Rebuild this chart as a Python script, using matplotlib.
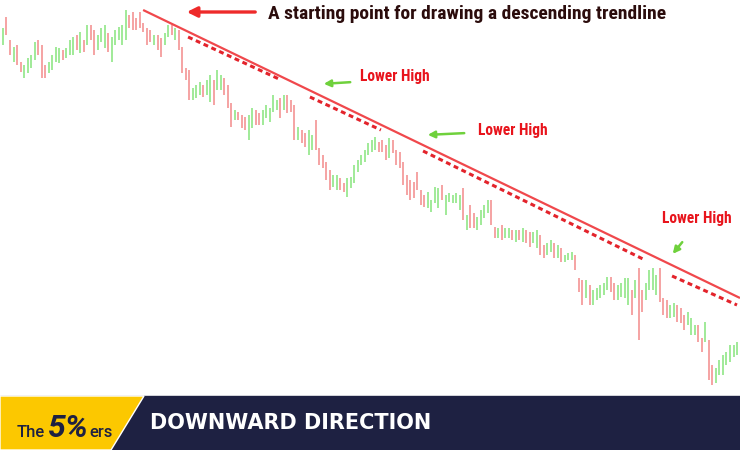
import numpy as np
import matplotlib
matplotlib.use("Agg")
import matplotlib.pyplot as plt
from matplotlib import font_manager
from matplotlib.patches import Polygon, Rectangle

# =========================
# DATA (bar highs / lows, up or down bar)
# =========================

bar_high = [372, 383, 360, 353, 355, 338, 335, 342, 345, 358,
            360, 355, 335, 338, 345, 353, 352, 350, 352, 360,
            363, 365, 368, 360, 375, 375, 370, 365, 372, 375,
            367, 363, 370, 373, 375, 390, 385, 388, 382, 388,
            377, 372, 370, 365, 365, 362, 367, 375, 375, 372,
            370, 353, 332, 330, 312, 315, 318, 315, 320, 325,
            320, 330, 325, 322, 315, 297, 290, 288, 285, 283,
            285, 292, 290, 287, 290, 295, 292, 305, 300, 302,
            305, 305, 300, 295, 273, 270, 267, 270, 265, 280,
            252, 245, 238, 230, 225, 225, 222, 217, 222, 223,
            235, 240, 245, 250, 257, 260, 263, 258, 260, 255,
            262, 260, 250, 248, 238, 225, 220, 218, 228, 210,
            205, 208, 200, 213, 212, 215, 205, 207, 205, 207,
            205, 212, 185, 195, 187, 183, 190, 195, 200, 200,
            173, 172, 175, 172, 172, 170, 170, 170, 172, 170,
            168, 168, 170, 165, 155, 157, 160, 157, 155, 152,
            145, 147, 148, 145, 122, 120, 120, 115, 110, 112,
            115, 117, 123, 123, 117, 115, 117, 122, 122, 110,
            120, 132, 110, 117, 130, 132, 125, 132, 102, 100,
            95, 97, 95, 92, 85, 88, 82, 75, 75, 62,
            78, 60, 35, 32, 40, 45, 48, 55, 55, 58]

bar_low = [355, 365, 345, 338, 335, 328, 322, 327, 332, 340,
           345, 322, 322, 327, 330, 338, 337, 340, 342, 345,
           345, 350, 347, 348, 355, 360, 345, 350, 358, 352,
           348, 338, 355, 360, 355, 360, 372, 370, 370, 372,
           368, 355, 358, 355, 350, 343, 355, 363, 365, 360,
           350, 327, 320, 300, 300, 302, 305, 303, 305, 298,
           295, 310, 310, 305, 292, 273, 280, 280, 272, 270,
           260, 272, 275, 275, 275, 282, 278, 288, 290, 282,
           290, 287, 288, 260, 260, 257, 253, 245, 250, 250,
           235, 232, 220, 210, 213, 210, 210, 208, 203, 212,
           217, 228, 235, 238, 245, 248, 250, 248, 248, 240,
           242, 247, 235, 232, 215, 205, 200, 202, 210, 195,
           193, 192, 188, 197, 192, 200, 185, 198, 197, 197,
           190, 180, 170, 172, 172, 170, 175, 182, 187, 175,
           162, 162, 160, 162, 162, 160, 158, 160, 158, 157,
           153, 157, 152, 145, 142, 145, 148, 142, 142, 138,
           138, 140, 140, 130, 108, 95, 102, 95, 95, 100,
           102, 105, 110, 108, 100, 100, 103, 102, 95, 85,
           102, 60, 88, 100, 110, 110, 105, 98, 85, 82,
           82, 83, 78, 77, 70, 75, 65, 65, 58, 48,
           58, 20, 15, 17, 25, 25, 35, 38, 43, 45]

# g = up bar, r = down bar (10 per group)
bar_dir = ("grrgrrgggg", "rrrggggrgg", "grgrgrrggg", "rgggggrrrr",
           "rrrgrrggrg", "rrrrgggrgg", "rggrrrgrrr", "ggrrgggggr",
           "grrrgrrggr", "rrrrggrrgg", "gggggggrrr", "grrrrrrrrr",
           "rggggrgggg", "grgrrggggr", "rgrggrgrgr", "rggrrggrgr",
           "gggrrrgrgg", "gggrrggggr", "grrggggrrr", "ggrrrgggrr",
           "grrggggggg")

trend_day = [39.9, 209.85]
trend_price = [390, 102]

dash_day = [[52.7, 79.2], [87.4, 107.6], [119.6, 182.8], [190.5, 209.0]]
dash_price = [[363, 320], [303, 270], [249, 140], [124, 95]]

title_text = "A starting point for drawing a descending trendline"
label_text = "Lower High"
banner_text = "DOWNWARD DIRECTION"

# =========================
# COLORS / FONTS
# =========================

GREEN = "#a0ea98"
RED = "#f5a3a3"
LINE_RED = "#f0484c"
DASH_RED = "#e3232b"
ARROW_GREEN = "#6fd13c"
NAVY = "#1e2142"
YELLOW = "#fcc800"

names = {f.name for f in font_manager.fontManager.ttflist}
narrow = None
for n in ["Roboto Condensed", "Liberation Sans Narrow", "Open Sans Condensed"]:
    if n in names:
        narrow = n
        break
if narrow is None:
    narrow = "Roboto"
    title_size, label_size = 11.5, 9.5
else:
    title_size, label_size = 14, 11.2

# =========================
# FIGURE
# =========================

fig = plt.figure(figsize=(7.4, 4.5), dpi=100)

ax = fig.add_axes([0, 0, 1, 1])
ax.set_xlim(-0.85, 209.85)
ax.set_ylim(-50, 400)
ax.axis("off")

days = np.arange(len(bar_high))
flags = "".join(bar_dir)
colors = [GREEN if c == "g" else RED for c in flags]
ax.vlines(days, bar_low, bar_high, colors=colors, linewidth=1.4)

# trendline and dashed line
ax.plot(trend_day, trend_price, color=LINE_RED, linewidth=1.6,
        solid_capstyle="butt")
for d, p in zip(dash_day, dash_price):
    ax.plot(d, p, color=DASH_RED, linewidth=2.2, linestyle=(0, (1.6, 1.2)))

# overlay in pixel coordinates for annotations and banner
ov = fig.add_axes([0, 0, 1, 1])
ov.set_xlim(0, 740)
ov.set_ylim(450, 0)
ov.axis("off")
ov.patch.set_alpha(0)

ov.annotate("", xy=(184, 12), xytext=(258, 12),
            arrowprops=dict(arrowstyle="-|>", color="#ee2a2a", lw=2.4,
                            mutation_scale=15))
ov.text(268, 14, title_text, family=[narrow, "DejaVu Sans"], fontweight="bold",
        fontsize=title_size, color="#2b0c0c", ha="left", va="center")

labels = [(360, 77), (478, 130), (662, 219)]
arrows = [((353, 82), (321, 84)), ((467, 133), (425, 135)),
          ((684, 240), (671, 256))]
for (lx, ly), (a0, a1) in zip(labels, arrows):
    ov.text(lx, ly, label_text, family=[narrow, "DejaVu Sans"],
            fontweight="bold", fontsize=label_size, color="#e8141c",
            ha="left", va="center")
    ov.annotate("", xy=a1, xytext=a0,
                arrowprops=dict(arrowstyle="-|>", color=ARROW_GREEN, lw=1.8,
                                mutation_scale=10))

# =========================
# BANNER
# =========================

ov.add_patch(Rectangle((0, 396), 740, 54, color=NAVY, zorder=5))
ov.add_patch(Polygon([(0, 396), (144, 396), (111, 450), (0, 450)],
                     closed=True, facecolor=YELLOW, edgecolor="white",
                     linewidth=1.0, zorder=6))

ov.text(17, 437, "The", fontsize=12, fontweight="medium", color=NAVY,
        ha="left", va="baseline", zorder=7, family=["Roboto", "DejaVu Sans"])
ov.text(48, 437, "5%", fontsize=23, fontweight="bold", fontstyle="italic",
        color=NAVY, ha="left", va="baseline", zorder=7,
        family=["Roboto", "DejaVu Sans"])
ov.text(89, 437, "ers", fontsize=12, fontweight="medium", color=NAVY,
        ha="left", va="baseline", zorder=7, family=["Roboto", "DejaVu Sans"])

ov.text(150, 423, banner_text, fontsize=15, fontweight="bold",
        color="white", ha="left", va="center", zorder=7, family="DejaVu Sans")

fig.savefig("out.png", dpi=100)
